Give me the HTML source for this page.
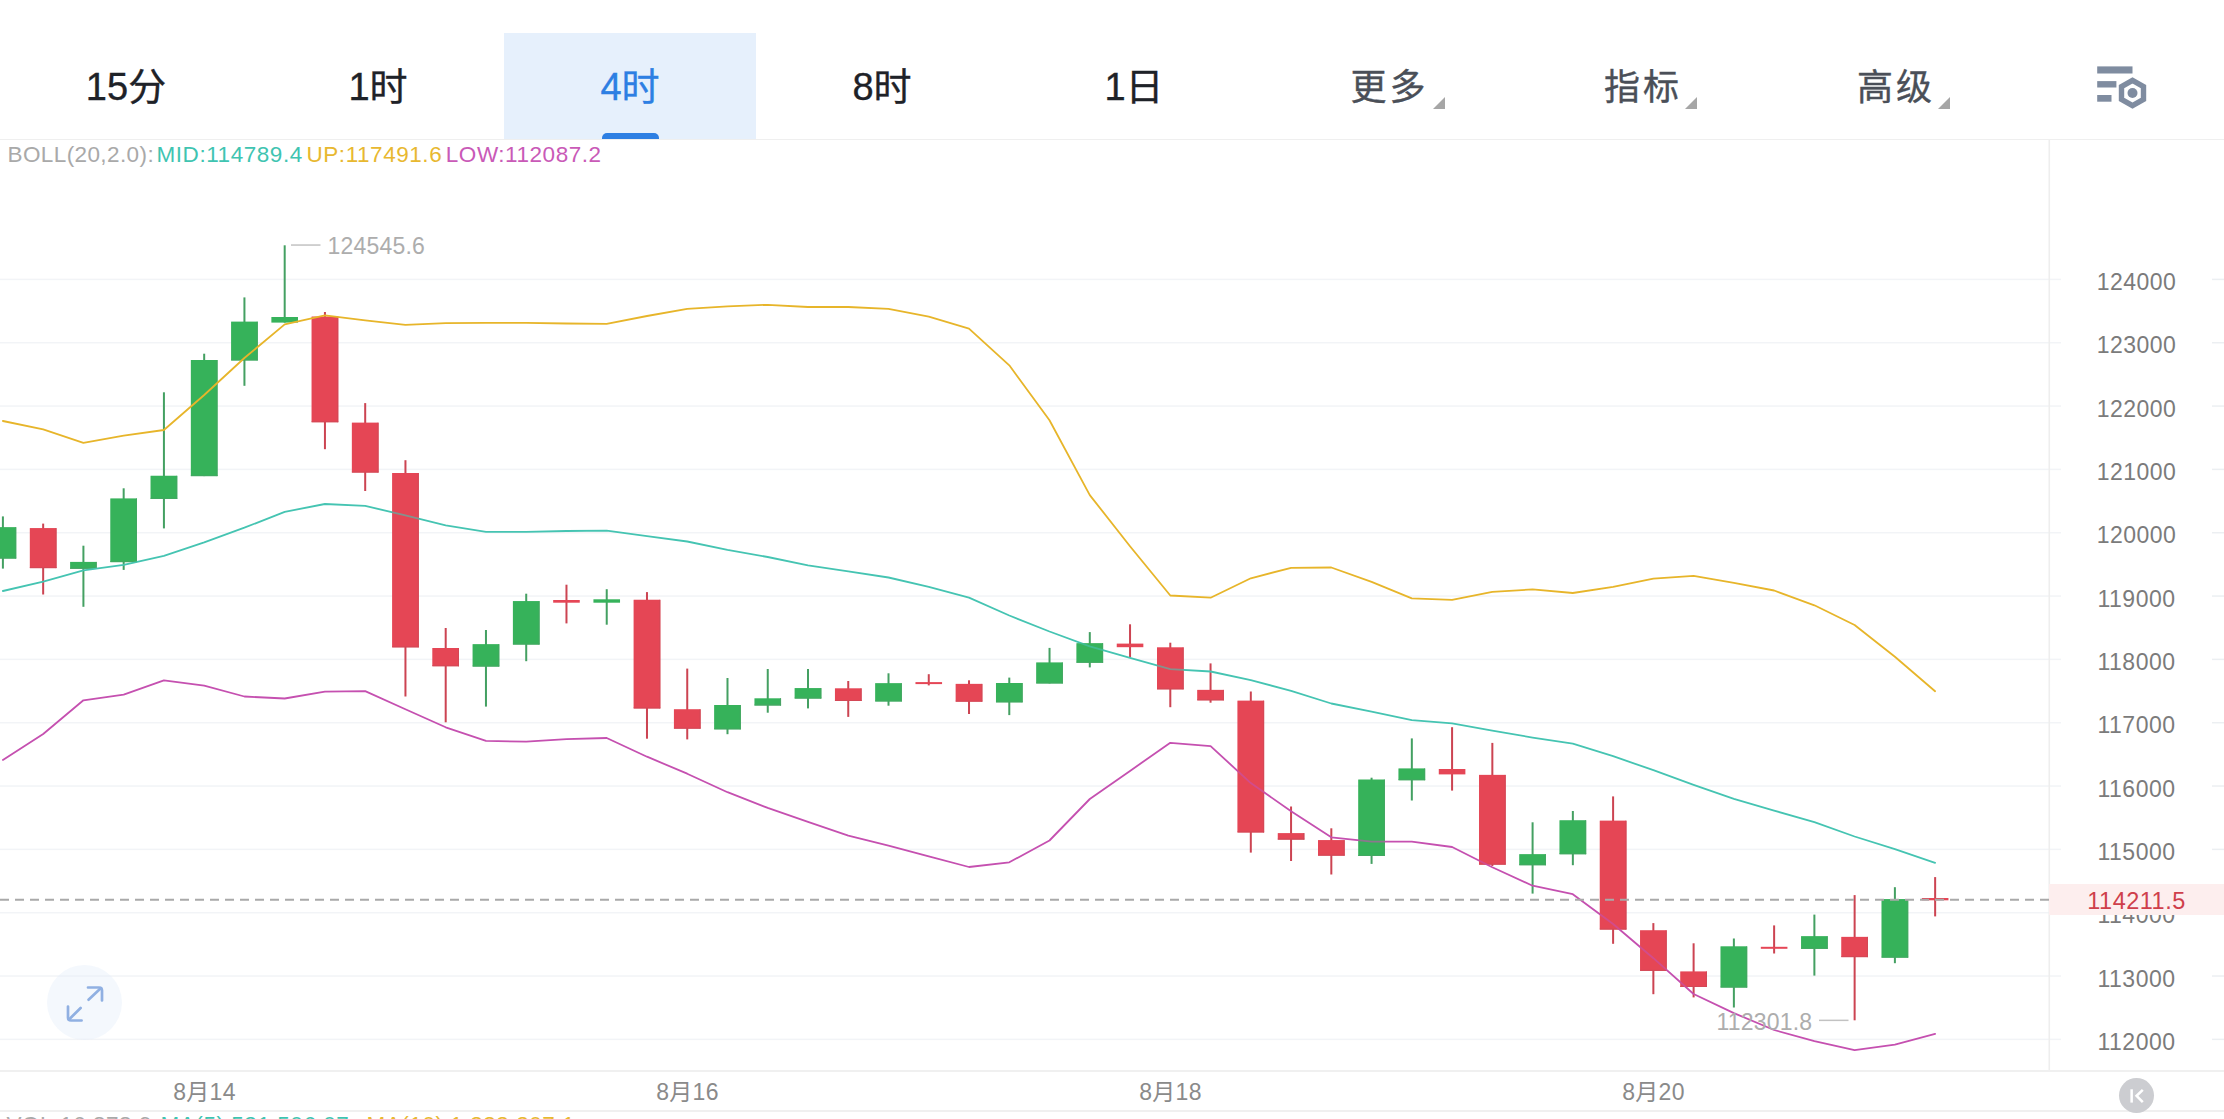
<!DOCTYPE html>
<html lang="zh-CN">
<head>
<meta charset="utf-8">
<title>K线</title>
<style>
html,body{margin:0;padding:0;background:#fff;}
body{width:2224px;height:1119px;position:relative;overflow:hidden;font-family:"Liberation Sans","Noto Sans CJK SC",sans-serif;}
#chart{position:absolute;left:0;top:0;}
.hdr{position:absolute;left:0;top:0;width:2224px;height:139px;border-bottom:1px solid #efefef;background:#fff;}
.tab{position:absolute;top:33px;height:106px;width:252px;text-align:center;line-height:109px;font-size:38px;color:#1e2228;white-space:nowrap;-webkit-text-stroke:0.35px currentColor;}
.tab.sel{background:#e6f0fc;color:#2d7fe3;}
.tab.sel i{position:absolute;left:97.5px;bottom:0;width:57px;height:6px;background:#2d7fe3;border-radius:5px 5px 0 0;}
.tab.g{color:#4a4f58;font-size:36px;line-height:110px;letter-spacing:3px;text-indent:3px;}
.tri{position:absolute;width:0;height:0;border-left:12.6px solid transparent;border-bottom:12px solid #a6a6a6;top:96.5px;}
.legend{position:absolute;left:0;top:141.3px;font-size:22.5px;line-height:28px;white-space:nowrap;color:#a9a9a9;}
.legend span{position:absolute;top:0;letter-spacing:0.55px;}
.legend .m{color:#3fc4b1;} .legend .u{color:#e8b830;} .legend .l{color:#c95ab7;}
.ax{position:absolute;left:2061.5px;width:150px;text-align:center;font-size:23px;line-height:28px;color:#7b7b7b;letter-spacing:0.5px;}
.plab{position:absolute;left:2049px;top:883.6px;width:175px;height:31.6px;background:#fdeeee;color:#cf3f4b;font-size:23.5px;line-height:34.5px;text-align:center;letter-spacing:0.5px;}
.hl{position:absolute;font-size:23px;line-height:28px;color:#adadad;white-space:nowrap;letter-spacing:0.2px;}
.dt{position:absolute;top:1077.6px;font-size:23px;line-height:28px;color:#8a8a8a;white-space:nowrap;transform:translateX(-50%);letter-spacing:0.3px;}
.vol{position:absolute;left:0;top:1111.3px;font-size:22.5px;line-height:28px;white-space:nowrap;color:#a9a9a9;letter-spacing:0.55px;}
.vol span{position:absolute;top:0;}
.fs{position:absolute;left:47px;top:964.5px;width:75px;height:75px;border-radius:50%;background:rgba(226,236,250,0.38);}
.kb{position:absolute;left:2118.6px;top:1077.6px;width:35.6px;height:35.6px;border-radius:50%;background:#cccdd1;}
</style>
</head>
<body>
<svg id="chart" width="2224" height="1119" viewBox="0 0 2224 1119">
<rect x="0" y="278.65" width="2061" height="1.5" fill="#f2f4f7"/>
<rect x="2212" y="278.65" width="12" height="1.5" fill="#eceff2"/>
<rect x="0" y="341.98" width="2061" height="1.5" fill="#f2f4f7"/>
<rect x="2212" y="341.98" width="12" height="1.5" fill="#eceff2"/>
<rect x="0" y="405.31" width="2061" height="1.5" fill="#f2f4f7"/>
<rect x="2212" y="405.31" width="12" height="1.5" fill="#eceff2"/>
<rect x="0" y="468.64" width="2061" height="1.5" fill="#f2f4f7"/>
<rect x="2212" y="468.64" width="12" height="1.5" fill="#eceff2"/>
<rect x="0" y="531.97" width="2061" height="1.5" fill="#f2f4f7"/>
<rect x="2212" y="531.97" width="12" height="1.5" fill="#eceff2"/>
<rect x="0" y="595.30" width="2061" height="1.5" fill="#f2f4f7"/>
<rect x="2212" y="595.30" width="12" height="1.5" fill="#eceff2"/>
<rect x="0" y="658.63" width="2061" height="1.5" fill="#f2f4f7"/>
<rect x="2212" y="658.63" width="12" height="1.5" fill="#eceff2"/>
<rect x="0" y="721.96" width="2061" height="1.5" fill="#f2f4f7"/>
<rect x="2212" y="721.96" width="12" height="1.5" fill="#eceff2"/>
<rect x="0" y="785.29" width="2061" height="1.5" fill="#f2f4f7"/>
<rect x="2212" y="785.29" width="12" height="1.5" fill="#eceff2"/>
<rect x="0" y="848.62" width="2061" height="1.5" fill="#f2f4f7"/>
<rect x="2212" y="848.62" width="12" height="1.5" fill="#eceff2"/>
<rect x="0" y="911.95" width="2061" height="1.5" fill="#f2f4f7"/>
<rect x="2212" y="911.95" width="12" height="1.5" fill="#eceff2"/>
<rect x="0" y="975.28" width="2061" height="1.5" fill="#f2f4f7"/>
<rect x="2212" y="975.28" width="12" height="1.5" fill="#eceff2"/>
<rect x="0" y="1038.61" width="2061" height="1.5" fill="#f2f4f7"/>
<rect x="2212" y="1038.61" width="12" height="1.5" fill="#eceff2"/>
<rect x="2048.5" y="139" width="1.6" height="932" fill="#eeeeee"/>
<rect x="0" y="1070" width="2224" height="2" fill="#f0f0f0"/>
<rect x="0" y="1110" width="2224" height="2" fill="#f0f0f0"/>
<rect x="1.90" y="516.4" width="2" height="52.2" fill="#44a062"/>
<rect x="-10.40" y="527.2" width="26.6" height="31.3" fill="#36b25b"/>
<rect x="15.20" y="527.2" width="1" height="31.3" fill="#4aa266"/>
<rect x="-10.40" y="557.5" width="26.6" height="1" fill="#4aa266"/>
<rect x="42.16" y="523.6" width="2" height="70.9" fill="#cc4452"/>
<rect x="29.86" y="528.1" width="26.6" height="40.0" fill="#e54656"/>
<rect x="55.45" y="528.1" width="1" height="40.0" fill="#c74a57"/>
<rect x="29.86" y="567.1" width="26.6" height="1" fill="#c74a57"/>
<rect x="82.41" y="545.7" width="2" height="61.1" fill="#44a062"/>
<rect x="70.11" y="561.9" width="26.6" height="6.9" fill="#36b25b"/>
<rect x="95.71" y="561.9" width="1" height="6.9" fill="#4aa266"/>
<rect x="70.11" y="567.8" width="26.6" height="1" fill="#4aa266"/>
<rect x="122.67" y="488.3" width="2" height="81.6" fill="#44a062"/>
<rect x="110.37" y="498.5" width="26.6" height="63.6" fill="#36b25b"/>
<rect x="135.97" y="498.5" width="1" height="63.6" fill="#4aa266"/>
<rect x="110.37" y="561.1" width="26.6" height="1" fill="#4aa266"/>
<rect x="162.92" y="392.3" width="2" height="136.1" fill="#44a062"/>
<rect x="150.62" y="475.8" width="26.6" height="23.1" fill="#36b25b"/>
<rect x="176.22" y="475.8" width="1" height="23.1" fill="#4aa266"/>
<rect x="150.62" y="497.9" width="26.6" height="1" fill="#4aa266"/>
<rect x="203.18" y="353.7" width="2" height="122.4" fill="#44a062"/>
<rect x="190.88" y="360.0" width="26.6" height="116.1" fill="#36b25b"/>
<rect x="216.48" y="360.0" width="1" height="116.1" fill="#4aa266"/>
<rect x="190.88" y="475.1" width="26.6" height="1" fill="#4aa266"/>
<rect x="243.43" y="297.4" width="2" height="88.4" fill="#44a062"/>
<rect x="231.13" y="321.7" width="26.6" height="38.7" fill="#36b25b"/>
<rect x="256.73" y="321.7" width="1" height="38.7" fill="#4aa266"/>
<rect x="231.13" y="359.4" width="26.6" height="1" fill="#4aa266"/>
<rect x="283.69" y="245.3" width="2" height="77.3" fill="#44a062"/>
<rect x="271.38" y="317.0" width="26.6" height="5.6" fill="#36b25b"/>
<rect x="323.94" y="312.0" width="2" height="137.2" fill="#cc4452"/>
<rect x="311.64" y="316.6" width="26.6" height="105.6" fill="#e54656"/>
<rect x="337.24" y="316.6" width="1" height="105.6" fill="#c74a57"/>
<rect x="311.64" y="421.2" width="26.6" height="1" fill="#c74a57"/>
<rect x="364.19" y="403.1" width="2" height="87.9" fill="#cc4452"/>
<rect x="351.89" y="422.7" width="26.6" height="49.8" fill="#e54656"/>
<rect x="377.50" y="422.7" width="1" height="49.8" fill="#c74a57"/>
<rect x="351.89" y="471.5" width="26.6" height="1" fill="#c74a57"/>
<rect x="404.45" y="460.2" width="2" height="236.3" fill="#cc4452"/>
<rect x="392.15" y="473.0" width="26.6" height="174.3" fill="#e54656"/>
<rect x="417.75" y="473.0" width="1" height="174.3" fill="#c74a57"/>
<rect x="392.15" y="646.3" width="26.6" height="1" fill="#c74a57"/>
<rect x="444.70" y="628.0" width="2" height="94.3" fill="#cc4452"/>
<rect x="432.40" y="648.0" width="26.6" height="18.2" fill="#e54656"/>
<rect x="458.00" y="648.0" width="1" height="18.2" fill="#c74a57"/>
<rect x="432.40" y="665.2" width="26.6" height="1" fill="#c74a57"/>
<rect x="484.96" y="630.0" width="2" height="76.6" fill="#44a062"/>
<rect x="472.66" y="644.2" width="26.6" height="22.3" fill="#36b25b"/>
<rect x="498.26" y="644.2" width="1" height="22.3" fill="#4aa266"/>
<rect x="472.66" y="665.5" width="26.6" height="1" fill="#4aa266"/>
<rect x="525.22" y="593.7" width="2" height="67.5" fill="#44a062"/>
<rect x="512.92" y="601.1" width="26.6" height="43.4" fill="#36b25b"/>
<rect x="538.51" y="601.1" width="1" height="43.4" fill="#4aa266"/>
<rect x="512.92" y="643.5" width="26.6" height="1" fill="#4aa266"/>
<rect x="565.47" y="584.7" width="2" height="38.7" fill="#cc4452"/>
<rect x="553.17" y="600.0" width="26.6" height="2.7" fill="#e54656"/>
<rect x="605.73" y="589.2" width="2" height="35.5" fill="#44a062"/>
<rect x="593.43" y="599.3" width="26.6" height="3.4" fill="#36b25b"/>
<rect x="645.98" y="592.1" width="2" height="146.6" fill="#cc4452"/>
<rect x="633.68" y="599.8" width="26.6" height="108.6" fill="#e54656"/>
<rect x="659.28" y="599.8" width="1" height="108.6" fill="#c74a57"/>
<rect x="633.68" y="707.4" width="26.6" height="1" fill="#c74a57"/>
<rect x="686.24" y="668.6" width="2" height="70.8" fill="#cc4452"/>
<rect x="673.94" y="709.3" width="26.6" height="19.3" fill="#e54656"/>
<rect x="699.53" y="709.3" width="1" height="19.3" fill="#c74a57"/>
<rect x="673.94" y="727.6" width="26.6" height="1" fill="#c74a57"/>
<rect x="726.49" y="678.0" width="2" height="56.2" fill="#44a062"/>
<rect x="714.19" y="705.0" width="26.6" height="24.3" fill="#36b25b"/>
<rect x="739.79" y="705.0" width="1" height="24.3" fill="#4aa266"/>
<rect x="714.19" y="728.3" width="26.6" height="1" fill="#4aa266"/>
<rect x="766.75" y="669.0" width="2" height="43.7" fill="#44a062"/>
<rect x="754.45" y="698.3" width="26.6" height="7.2" fill="#36b25b"/>
<rect x="780.04" y="698.3" width="1" height="7.2" fill="#4aa266"/>
<rect x="754.45" y="704.5" width="26.6" height="1" fill="#4aa266"/>
<rect x="807.00" y="669.0" width="2" height="39.4" fill="#44a062"/>
<rect x="794.70" y="688.1" width="26.6" height="10.4" fill="#36b25b"/>
<rect x="820.30" y="688.1" width="1" height="10.4" fill="#4aa266"/>
<rect x="794.70" y="697.5" width="26.6" height="1" fill="#4aa266"/>
<rect x="847.25" y="681.0" width="2" height="35.9" fill="#cc4452"/>
<rect x="834.96" y="688.4" width="26.6" height="12.6" fill="#e54656"/>
<rect x="860.55" y="688.4" width="1" height="12.6" fill="#c74a57"/>
<rect x="834.96" y="700.0" width="26.6" height="1" fill="#c74a57"/>
<rect x="887.51" y="673.3" width="2" height="32.4" fill="#44a062"/>
<rect x="875.21" y="683.2" width="26.6" height="18.2" fill="#36b25b"/>
<rect x="900.81" y="683.2" width="1" height="18.2" fill="#4aa266"/>
<rect x="875.21" y="700.4" width="26.6" height="1" fill="#4aa266"/>
<rect x="927.76" y="674.2" width="2" height="11.2" fill="#cc4452"/>
<rect x="915.47" y="682.1" width="26.6" height="2.0" fill="#e54656"/>
<rect x="968.02" y="680.3" width="2" height="33.7" fill="#cc4452"/>
<rect x="955.72" y="683.9" width="26.6" height="17.7" fill="#e54656"/>
<rect x="981.32" y="683.9" width="1" height="17.7" fill="#c74a57"/>
<rect x="955.72" y="700.6" width="26.6" height="1" fill="#c74a57"/>
<rect x="1008.28" y="677.6" width="2" height="37.5" fill="#44a062"/>
<rect x="995.98" y="683.0" width="26.6" height="19.3" fill="#36b25b"/>
<rect x="1021.58" y="683.0" width="1" height="19.3" fill="#4aa266"/>
<rect x="995.98" y="701.3" width="26.6" height="1" fill="#4aa266"/>
<rect x="1048.53" y="647.9" width="2" height="35.5" fill="#44a062"/>
<rect x="1036.23" y="662.5" width="26.6" height="20.9" fill="#36b25b"/>
<rect x="1061.83" y="662.5" width="1" height="20.9" fill="#4aa266"/>
<rect x="1036.23" y="682.4" width="26.6" height="1" fill="#4aa266"/>
<rect x="1088.79" y="632.1" width="2" height="35.3" fill="#44a062"/>
<rect x="1076.49" y="643.2" width="26.6" height="19.5" fill="#36b25b"/>
<rect x="1102.09" y="643.2" width="1" height="19.5" fill="#4aa266"/>
<rect x="1076.49" y="661.7" width="26.6" height="1" fill="#4aa266"/>
<rect x="1129.04" y="624.3" width="2" height="33.0" fill="#cc4452"/>
<rect x="1116.74" y="643.6" width="26.6" height="3.6" fill="#e54656"/>
<rect x="1169.30" y="642.7" width="2" height="64.5" fill="#cc4452"/>
<rect x="1157.00" y="647.4" width="26.6" height="41.9" fill="#e54656"/>
<rect x="1182.60" y="647.4" width="1" height="41.9" fill="#c74a57"/>
<rect x="1157.00" y="688.3" width="26.6" height="1" fill="#c74a57"/>
<rect x="1209.55" y="663.4" width="2" height="39.3" fill="#cc4452"/>
<rect x="1197.25" y="689.9" width="26.6" height="10.4" fill="#e54656"/>
<rect x="1222.85" y="689.9" width="1" height="10.4" fill="#c74a57"/>
<rect x="1197.25" y="699.3" width="26.6" height="1" fill="#c74a57"/>
<rect x="1249.81" y="691.5" width="2" height="161.1" fill="#cc4452"/>
<rect x="1237.51" y="700.7" width="26.6" height="131.7" fill="#e54656"/>
<rect x="1263.11" y="700.7" width="1" height="131.7" fill="#c74a57"/>
<rect x="1237.51" y="831.4" width="26.6" height="1" fill="#c74a57"/>
<rect x="1290.06" y="806.5" width="2" height="54.5" fill="#cc4452"/>
<rect x="1277.76" y="833.1" width="26.6" height="6.5" fill="#e54656"/>
<rect x="1303.36" y="833.1" width="1" height="6.5" fill="#c74a57"/>
<rect x="1277.76" y="838.6" width="26.6" height="1" fill="#c74a57"/>
<rect x="1330.32" y="828.3" width="2" height="46.2" fill="#cc4452"/>
<rect x="1318.02" y="840.1" width="26.6" height="15.5" fill="#e54656"/>
<rect x="1343.62" y="840.1" width="1" height="15.5" fill="#c74a57"/>
<rect x="1318.02" y="854.6" width="26.6" height="1" fill="#c74a57"/>
<rect x="1370.57" y="777.7" width="2" height="86.2" fill="#44a062"/>
<rect x="1358.27" y="779.6" width="26.6" height="76.4" fill="#36b25b"/>
<rect x="1383.87" y="779.6" width="1" height="76.4" fill="#4aa266"/>
<rect x="1358.27" y="855.0" width="26.6" height="1" fill="#4aa266"/>
<rect x="1410.83" y="738.4" width="2" height="62.1" fill="#44a062"/>
<rect x="1398.53" y="768.5" width="26.6" height="11.7" fill="#36b25b"/>
<rect x="1424.13" y="768.5" width="1" height="11.7" fill="#4aa266"/>
<rect x="1398.53" y="779.2" width="26.6" height="1" fill="#4aa266"/>
<rect x="1451.08" y="727.2" width="2" height="63.4" fill="#cc4452"/>
<rect x="1438.78" y="769.0" width="26.6" height="5.4" fill="#e54656"/>
<rect x="1491.34" y="742.9" width="2" height="123.1" fill="#cc4452"/>
<rect x="1479.04" y="774.9" width="26.6" height="89.7" fill="#e54656"/>
<rect x="1504.64" y="774.9" width="1" height="89.7" fill="#c74a57"/>
<rect x="1479.04" y="863.6" width="26.6" height="1" fill="#c74a57"/>
<rect x="1531.59" y="822.3" width="2" height="71.3" fill="#44a062"/>
<rect x="1519.29" y="854.2" width="26.6" height="11.0" fill="#36b25b"/>
<rect x="1544.89" y="854.2" width="1" height="11.0" fill="#4aa266"/>
<rect x="1519.29" y="864.2" width="26.6" height="1" fill="#4aa266"/>
<rect x="1571.85" y="811.0" width="2" height="54.2" fill="#44a062"/>
<rect x="1559.55" y="820.3" width="26.6" height="33.9" fill="#36b25b"/>
<rect x="1585.15" y="820.3" width="1" height="33.9" fill="#4aa266"/>
<rect x="1559.55" y="853.2" width="26.6" height="1" fill="#4aa266"/>
<rect x="1612.10" y="796.4" width="2" height="147.4" fill="#cc4452"/>
<rect x="1599.80" y="820.7" width="26.6" height="108.8" fill="#e54656"/>
<rect x="1625.40" y="820.7" width="1" height="108.8" fill="#c74a57"/>
<rect x="1599.80" y="928.5" width="26.6" height="1" fill="#c74a57"/>
<rect x="1652.36" y="923.1" width="2" height="71.1" fill="#cc4452"/>
<rect x="1640.06" y="930.3" width="26.6" height="40.5" fill="#e54656"/>
<rect x="1665.66" y="930.3" width="1" height="40.5" fill="#c74a57"/>
<rect x="1640.06" y="969.8" width="26.6" height="1" fill="#c74a57"/>
<rect x="1692.61" y="943.3" width="2" height="54.1" fill="#cc4452"/>
<rect x="1680.31" y="971.5" width="26.6" height="15.5" fill="#e54656"/>
<rect x="1705.91" y="971.5" width="1" height="15.5" fill="#c74a57"/>
<rect x="1680.31" y="986.0" width="26.6" height="1" fill="#c74a57"/>
<rect x="1732.87" y="938.5" width="2" height="69.0" fill="#44a062"/>
<rect x="1720.57" y="946.4" width="26.6" height="41.1" fill="#36b25b"/>
<rect x="1746.17" y="946.4" width="1" height="41.1" fill="#4aa266"/>
<rect x="1720.57" y="986.5" width="26.6" height="1" fill="#4aa266"/>
<rect x="1773.12" y="925.4" width="2" height="28.1" fill="#cc4452"/>
<rect x="1760.82" y="946.8" width="26.6" height="2.0" fill="#e54656"/>
<rect x="1813.38" y="914.6" width="2" height="61.0" fill="#44a062"/>
<rect x="1801.08" y="936.2" width="26.6" height="12.6" fill="#36b25b"/>
<rect x="1826.68" y="936.2" width="1" height="12.6" fill="#4aa266"/>
<rect x="1801.08" y="947.8" width="26.6" height="1" fill="#4aa266"/>
<rect x="1853.63" y="895.1" width="2" height="125.2" fill="#cc4452"/>
<rect x="1841.33" y="936.9" width="26.6" height="20.2" fill="#e54656"/>
<rect x="1866.93" y="936.9" width="1" height="20.2" fill="#c74a57"/>
<rect x="1841.33" y="956.1" width="26.6" height="1" fill="#c74a57"/>
<rect x="1893.89" y="887.2" width="2" height="76.0" fill="#44a062"/>
<rect x="1881.59" y="899.1" width="26.6" height="58.5" fill="#36b25b"/>
<rect x="1907.19" y="899.1" width="1" height="58.5" fill="#4aa266"/>
<rect x="1881.59" y="956.6" width="26.6" height="1" fill="#4aa266"/>
<rect x="1934.14" y="877.1" width="2" height="39.3" fill="#cc4452"/>
<rect x="1921.84" y="898.0" width="26.6" height="2.3" fill="#e54656"/>
<polyline points="2.9,591.0 43.2,581.6 83.4,570.4 123.7,564.8 163.9,555.8 204.2,542.3 244.4,527.7 284.7,511.9 324.9,504.0 365.2,505.9 405.4,515.3 445.7,525.3 486.0,531.8 526.2,531.8 566.5,531.0 606.7,530.7 647.0,536.1 687.2,541.5 727.5,549.8 767.7,557.0 808.0,565.3 848.3,571.4 888.5,577.5 928.8,586.8 969.0,597.6 1009.3,615.5 1049.5,631.5 1089.8,646.4 1130.0,657.9 1170.3,669.1 1210.6,671.5 1250.8,680.2 1291.1,690.8 1331.3,703.5 1371.6,711.7 1411.8,720.2 1452.1,723.3 1492.3,730.6 1532.6,737.6 1572.8,743.7 1613.1,756.2 1653.4,770.2 1693.6,784.8 1733.9,798.8 1774.1,810.6 1814.4,822.2 1854.6,836.5 1894.9,849.1 1935.1,862.8" fill="none" stroke="#45c4b2" stroke-width="1.8" stroke-linejoin="round" stroke-linecap="round"/>
<polyline points="2.9,759.9 43.2,734.0 83.4,700.3 123.7,694.7 163.9,680.3 204.2,685.7 244.4,696.5 284.7,698.5 324.9,691.7 365.2,691.1 405.4,709.3 445.7,727.3 486.0,740.8 526.2,741.7 566.5,739.2 606.7,738.0 647.0,756.7 687.2,773.7 727.5,792.2 767.7,807.9 808.0,821.9 848.3,835.6 888.5,845.7 928.8,856.3 969.0,867.0 1009.3,862.3 1049.5,840.5 1089.8,799.0 1130.0,770.9 1170.3,742.8 1210.6,746.1 1250.8,783.1 1291.1,811.2 1331.3,837.3 1371.6,841.6 1411.8,841.6 1452.1,847.0 1492.3,867.3 1532.6,885.7 1572.8,894.2 1613.1,924.0 1653.4,958.2 1693.6,994.0 1733.9,1013.1 1774.1,1030.0 1814.4,1041.2 1854.6,1050.2 1894.9,1044.6 1935.1,1033.8" fill="none" stroke="#c550b0" stroke-width="1.8" stroke-linejoin="round" stroke-linecap="round"/>
<rect x="-10.40" y="527.2" width="26.6" height="31.3" fill="#36b25b" fill-opacity="0.4"/>
<rect x="29.86" y="528.1" width="26.6" height="40.0" fill="#e54656" fill-opacity="0.4"/>
<rect x="110.37" y="498.5" width="26.6" height="63.6" fill="#36b25b" fill-opacity="0.4"/>
<rect x="150.62" y="475.8" width="26.6" height="23.1" fill="#36b25b" fill-opacity="0.4"/>
<rect x="190.88" y="360.0" width="26.6" height="116.1" fill="#36b25b" fill-opacity="0.4"/>
<rect x="231.13" y="321.7" width="26.6" height="38.7" fill="#36b25b" fill-opacity="0.4"/>
<rect x="311.64" y="316.6" width="26.6" height="105.6" fill="#e54656" fill-opacity="0.4"/>
<rect x="351.89" y="422.7" width="26.6" height="49.8" fill="#e54656" fill-opacity="0.4"/>
<rect x="392.15" y="473.0" width="26.6" height="174.3" fill="#e54656" fill-opacity="0.4"/>
<rect x="432.40" y="648.0" width="26.6" height="18.2" fill="#e54656" fill-opacity="0.4"/>
<rect x="472.66" y="644.2" width="26.6" height="22.3" fill="#36b25b" fill-opacity="0.4"/>
<rect x="512.92" y="601.1" width="26.6" height="43.4" fill="#36b25b" fill-opacity="0.4"/>
<rect x="633.68" y="599.8" width="26.6" height="108.6" fill="#e54656" fill-opacity="0.4"/>
<rect x="673.94" y="709.3" width="26.6" height="19.3" fill="#e54656" fill-opacity="0.4"/>
<rect x="714.19" y="705.0" width="26.6" height="24.3" fill="#36b25b" fill-opacity="0.4"/>
<rect x="794.70" y="688.1" width="26.6" height="10.4" fill="#36b25b" fill-opacity="0.4"/>
<rect x="834.96" y="688.4" width="26.6" height="12.6" fill="#e54656" fill-opacity="0.4"/>
<rect x="875.21" y="683.2" width="26.6" height="18.2" fill="#36b25b" fill-opacity="0.4"/>
<rect x="955.72" y="683.9" width="26.6" height="17.7" fill="#e54656" fill-opacity="0.4"/>
<rect x="995.98" y="683.0" width="26.6" height="19.3" fill="#36b25b" fill-opacity="0.4"/>
<rect x="1036.23" y="662.5" width="26.6" height="20.9" fill="#36b25b" fill-opacity="0.4"/>
<rect x="1076.49" y="643.2" width="26.6" height="19.5" fill="#36b25b" fill-opacity="0.4"/>
<rect x="1157.00" y="647.4" width="26.6" height="41.9" fill="#e54656" fill-opacity="0.4"/>
<rect x="1197.25" y="689.9" width="26.6" height="10.4" fill="#e54656" fill-opacity="0.4"/>
<rect x="1237.51" y="700.7" width="26.6" height="131.7" fill="#e54656" fill-opacity="0.4"/>
<rect x="1318.02" y="840.1" width="26.6" height="15.5" fill="#e54656" fill-opacity="0.4"/>
<rect x="1358.27" y="779.6" width="26.6" height="76.4" fill="#36b25b" fill-opacity="0.4"/>
<rect x="1398.53" y="768.5" width="26.6" height="11.7" fill="#36b25b" fill-opacity="0.4"/>
<rect x="1479.04" y="774.9" width="26.6" height="89.7" fill="#e54656" fill-opacity="0.4"/>
<rect x="1519.29" y="854.2" width="26.6" height="11.0" fill="#36b25b" fill-opacity="0.4"/>
<rect x="1559.55" y="820.3" width="26.6" height="33.9" fill="#36b25b" fill-opacity="0.4"/>
<rect x="1599.80" y="820.7" width="26.6" height="108.8" fill="#e54656" fill-opacity="0.4"/>
<rect x="1640.06" y="930.3" width="26.6" height="40.5" fill="#e54656" fill-opacity="0.4"/>
<rect x="1680.31" y="971.5" width="26.6" height="15.5" fill="#e54656" fill-opacity="0.4"/>
<rect x="1720.57" y="946.4" width="26.6" height="41.1" fill="#36b25b" fill-opacity="0.4"/>
<rect x="1801.08" y="936.2" width="26.6" height="12.6" fill="#36b25b" fill-opacity="0.4"/>
<rect x="1841.33" y="936.9" width="26.6" height="20.2" fill="#e54656" fill-opacity="0.4"/>
<rect x="1881.59" y="899.1" width="26.6" height="58.5" fill="#36b25b" fill-opacity="0.4"/>
<polyline points="2.9,421.0 43.2,429.4 83.4,442.9 123.7,435.7 163.9,430.0 204.2,395.0 244.4,358.0 284.7,324.4 324.9,315.4 365.2,320.4 405.4,324.9 445.7,323.2 486.0,322.8 526.2,322.8 566.5,323.5 606.7,323.9 647.0,316.0 687.2,308.8 727.5,306.3 767.7,304.8 808.0,307.0 848.3,307.0 888.5,308.8 928.8,316.7 969.0,328.6 1009.3,365.3 1049.5,420.3 1089.8,495.1 1130.0,546.2 1170.3,595.5 1210.6,597.7 1250.8,578.3 1291.1,567.8 1331.3,567.5 1371.6,581.9 1411.8,598.4 1452.1,599.9 1492.3,591.9 1532.6,589.4 1572.8,593.0 1613.1,586.9 1653.4,578.6 1693.6,575.8 1733.9,582.9 1774.1,590.5 1814.4,605.3 1854.6,625.0 1894.9,656.7 1935.1,691.2" fill="none" stroke="#e7b52a" stroke-width="1.8" stroke-linejoin="round" stroke-linecap="round"/>
<line x1="0" y1="899.8" x2="2049" y2="899.8" stroke="#a9a9a9" stroke-width="2" stroke-dasharray="9 6"/>
<rect x="291" y="244.3" width="29.5" height="1.5" fill="#c2c2c2"/>
<rect x="1819" y="1019.6" width="29.5" height="1.5" fill="#c2c2c2"/>
</svg>
<div class="hdr">
<div class="tab" style="left:0">15分</div>
<div class="tab" style="left:252px">1时</div>
<div class="tab sel" style="left:504px">4时<i></i></div>
<div class="tab" style="left:756px">8时</div>
<div class="tab" style="left:1008px">1日</div>
<div class="tab g" style="left:1262px">更多</div><span class="tri" style="left:1432.5px"></span>
<div class="tab g" style="left:1515.5px">指标</div><span class="tri" style="left:1685.2px"></span>
<div class="tab g" style="left:1768.5px">高级</div><span class="tri" style="left:1938.3px"></span>
<svg style="position:absolute;left:2090px;top:60px" width="64" height="56" viewBox="2090 60 64 56">
<rect x="2097.2" y="66.4" width="35.3" height="7.1" fill="#7f8ca0"/>
<rect x="2097.2" y="81.1" width="19.2" height="6.4" fill="#7f8ca0"/>
<rect x="2097.2" y="95" width="14.3" height="6.7" fill="#7f8ca0"/>
<polygon points="2132.5,80.3 2143.5,86.6 2143.5,99.4 2132.5,105.7 2121.5,99.4 2121.5,86.6" fill="#fff" stroke="#7f8ca0" stroke-width="5.4" stroke-linejoin="miter"/>
<circle cx="2132.5" cy="93" r="5" fill="#7f8ca0"/>
</svg>
</div>
<div class="legend"><span style="left:7.5px;letter-spacing:0.4px">BOLL(20,2.0):</span><span class="m" style="left:156.5px">MID:114789.4</span><span class="u" style="left:306.5px">UP:117491.6</span><span class="l" style="left:445.8px">LOW:112087.2</span></div>
<div class="ax" style="top:268.1px">124000</div>
<div class="ax" style="top:331.4px">123000</div>
<div class="ax" style="top:394.8px">122000</div>
<div class="ax" style="top:458.1px">121000</div>
<div class="ax" style="top:521.4px">120000</div>
<div class="ax" style="top:584.8px">119000</div>
<div class="ax" style="top:648.1px">118000</div>
<div class="ax" style="top:711.4px">117000</div>
<div class="ax" style="top:774.7px">116000</div>
<div class="ax" style="top:838.1px">115000</div>
<div class="ax" style="top:901.4px">114000</div>
<div class="ax" style="top:964.7px">113000</div>
<div class="ax" style="top:1028.1px">112000</div>

<div class="plab">114211.5</div>
<div class="hl" style="left:327.5px;top:231.5px">124545.6</div>
<div class="hl" style="left:1716.5px;top:1007.5px">112301.8</div>
<div class="dt" style="left:204.5px">8月14</div>
<div class="dt" style="left:687.5px">8月16</div>
<div class="dt" style="left:1170.5px">8月18</div>
<div class="dt" style="left:1653.5px">8月20</div>
<div class="vol"><span style="left:6.5px">VOL:16,878.9</span><span style="left:160.5px;color:#3fc4b1">MA(5):531,506.07</span><span style="left:366.5px;color:#e8b830">MA(10):1,333,207.1</span></div>
<div class="fs"><svg width="75" height="75" viewBox="47 964.5 75 75"><g fill="none" stroke="#90b0e2" stroke-width="2.7" stroke-linecap="round" stroke-linejoin="round"><path d="M88.5 999.2 L101 987.6"/><path d="M88 987 H99 Q102 987 102 990 V1000"/><path d="M80.6 1007.5 L69 1019"/><path d="M68 1006 V1017 Q68 1020 71 1020 H81.6"/></g></svg></div>
<div class="kb"><svg width="35.6" height="35.6" viewBox="2118.6 1077.6 35.6 35.6"><rect x="2130" y="1088.9" width="2.5" height="13.3" fill="#fff"/><polyline points="2142.4,1089.5 2136.2,1095.4 2142.4,1101.7" fill="none" stroke="#fff" stroke-width="2.6"/></svg></div>
</body>
</html>
